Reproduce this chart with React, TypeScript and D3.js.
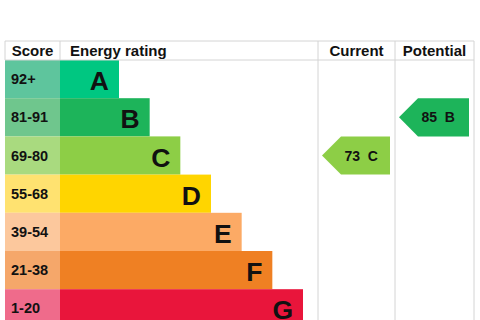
import React from "react";
import * as d3 from "d3";

const ratings = ["A", "B", "C", "D", "E", "F", "G"];
const scoreRanges = ["92+", "81-91", "69-80", "55-68", "39-54", "21-38", "1-20"];
const bandMins = [92, 81, 69, 55, 39, 21, 1];
const barColors = ["#00c781", "#1db45a", "#8dce46", "#ffd500", "#fcaa65", "#ef8023", "#e9153b"];
const scoreColors = ["#5ec59d", "#6fc68d", "#a9da7f", "#ffe270", "#fcc89d", "#f5a76a", "#ef6b8b"];
const headers = ["Score", "Energy rating", "Current", "Potential"];
const currentScore = 73;
const potentialScore = 85;

const W = 480;
const H = 320;
const FONT = "'Liberation Sans', Arial, sans-serif";

function bandOf(score: number) {
  return bandMins.findIndex((m) => score >= m);
}

export default function App() {
  const left = 5;
  const scoreRight = 60;
  const curLeft = 318;
  const potLeft = 395;
  const right = 474;
  const headTop = 41;
  const headBottom = 60;
  const rowH = 38.2;

  const y = d3
    .scaleBand<string>()
    .domain(ratings)
    .range([headBottom, headBottom + rowH * ratings.length])
    .padding(0);
  const xEnd = d3.scaleLinear().domain([0, 6]).range([119, 303]);

  const arrow = (score: number, colLeft: number, colRight: number, key: string) => {
    const i = bandOf(score);
    const r = ratings[i];
    const y0 = y(r)!;
    const y1 = y0 + y.bandwidth();
    const tip = colLeft + 4;
    const bodyL = tip + 19;
    const bodyR = colRight - 5;
    const ym = (y0 + y1) / 2;
    const path = `M${tip},${ym}L${bodyL},${y0}L${bodyR},${y0}L${bodyR},${y1}L${bodyL},${y1}Z`;
    return (
      <g key={key}>
        <path d={path} fill={barColors[i]} />
        <text
          x={tip + 22.5}
          y={ym + 5}
          fontFamily={FONT}
          fontWeight="bold"
          fontSize={14}
          fill="#111"
          style={{ whiteSpace: "pre" }}
        >
          {`${score}  ${r}`}
        </text>
      </g>
    );
  };

  const bottom = H + 10;
  const gridColor = "#d4d4d4";

  return (
    <svg
      width={W}
      height={H}
      style={{ position: "absolute", left: 0, top: 0, background: "#fff" }}
    >
      {ratings.map((r, i) => (
        <g key={r}>
          <rect x={left} y={y(r)!} width={scoreRight - left} height={y.bandwidth()} fill={scoreColors[i]} />
          <rect x={scoreRight} y={y(r)!} width={xEnd(i) - scoreRight} height={y.bandwidth()} fill={barColors[i]} />
          <text
            x={11}
            y={y(r)! + y.bandwidth() / 2 + 5}
            fontFamily={FONT}
            fontWeight="bold"
            fontSize={14.5}
            fill="#111"
          >
            {scoreRanges[i]}
          </text>
          <text
            x={xEnd(i) - 10}
            y={y(r)! + y.bandwidth() - 8}
            fontFamily={FONT}
            fontWeight="bold"
            fontSize={26.5}
            textAnchor="end"
            fill="#111"
          >
            {r}
          </text>
        </g>
      ))}
      {/* grid */}
      <line x1={left} x2={right} y1={headTop} y2={headTop} stroke={gridColor} />
      <line x1={left} x2={right} y1={headBottom} y2={headBottom} stroke={gridColor} />
      <line x1={left} x2={left} y1={headTop} y2={headBottom} stroke={gridColor} />
      <line x1={scoreRight} x2={scoreRight} y1={headTop} y2={headBottom} stroke={gridColor} />
      <line x1={curLeft} x2={curLeft} y1={headTop} y2={bottom} stroke={gridColor} />
      <line x1={potLeft} x2={potLeft} y1={headTop} y2={bottom} stroke={gridColor} />
      <line x1={right} x2={right} y1={headTop} y2={bottom} stroke={gridColor} />
      {/* headers */}
      <text x={(left + scoreRight) / 2} y={56} textAnchor="middle" fontFamily={FONT} fontWeight="bold" fontSize={15} fill="#111">
        {headers[0]}
      </text>
      <text x={70} y={56} fontFamily={FONT} fontWeight="bold" fontSize={15} fill="#111">
        {headers[1]}
      </text>
      <text x={(curLeft + potLeft) / 2} y={56} textAnchor="middle" fontFamily={FONT} fontWeight="bold" fontSize={15} fill="#111">
        {headers[2]}
      </text>
      <text x={(potLeft + right) / 2} y={56} textAnchor="middle" fontFamily={FONT} fontWeight="bold" fontSize={15} fill="#111">
        {headers[3]}
      </text>
      {arrow(currentScore, curLeft, potLeft, "cur")}
      {arrow(potentialScore, potLeft, right, "pot")}
    </svg>
  );
}
